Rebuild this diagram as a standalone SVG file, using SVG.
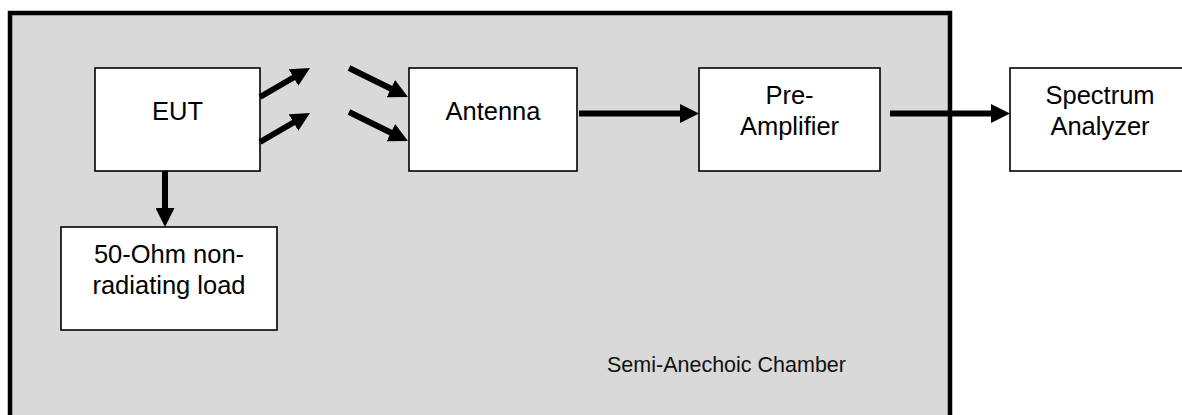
<svg xmlns="http://www.w3.org/2000/svg" width="1182" height="415" viewBox="0 0 1182 415">
  <defs>
    <marker id="ah" markerUnits="userSpaceOnUse" markerWidth="19" markerHeight="19" viewBox="0 0 19 19" refX="7" refY="9.5" orient="auto">
      <path d="M0,0 L19,9.5 L0,19 Z" fill="#000"/>
    </marker>
    <style>
      .box { fill: #fff; stroke: #000; stroke-width: 1.6; }
      .lbl { font-family: "Liberation Sans", Arial, sans-serif; font-size: 25.5px; fill: #000; text-anchor: middle; }
      .small { font-family: "Liberation Sans", Arial, sans-serif; font-size: 21.5px; fill: #111; }
      .conn { stroke: #000; stroke-width: 6; fill: none; marker-end: url(#ah); }
    </style>
  </defs>
  <rect width="1182" height="415" fill="#fff"/>
  <g id="chamber">
    <path d="M10,425 L10,13 L950,13 L950,425" fill="#d9d9d9" stroke="#000" stroke-width="4.5"/>
    <text class="small" x="607" y="372">Semi-Anechoic Chamber</text>
  </g>
  <g id="eut">
    <rect class="box" x="95" y="68" width="165" height="103"/>
    <text class="lbl" x="177.5" y="120">EUT</text>
  </g>
  <g id="antenna">
    <rect class="box" x="409" y="68" width="168" height="103"/>
    <text class="lbl" x="493" y="120">Antenna</text>
  </g>
  <g id="preamp">
    <rect class="box" x="699" y="68" width="181" height="103"/>
    <text class="lbl" x="789.5" y="104">Pre-</text>
    <text class="lbl" x="789.5" y="135">Amplifier</text>
  </g>
  <g id="spectrum">
    <rect class="box" x="1010" y="68" width="180" height="103"/>
    <text class="lbl" x="1100" y="104">Spectrum</text>
    <text class="lbl" x="1100" y="135">Analyzer</text>
  </g>
  <g id="load">
    <rect class="box" x="61" y="227" width="216" height="103"/>
    <text class="lbl" x="169" y="263">50-Ohm non-</text>
    <text class="lbl" x="169" y="293.5">radiating load</text>
  </g>
  <g id="connectors">
    <line class="conn" x1="165" y1="171" x2="165" y2="215"/>
    <line class="conn" x1="260" y1="97" x2="299.6" y2="74"/>
    <line class="conn" x1="260" y1="142" x2="299.6" y2="119"/>
    <line class="conn" x1="349" y1="68" x2="397.2" y2="91.7"/>
    <line class="conn" x1="349" y1="112" x2="397.2" y2="135.7"/>
    <line class="conn" x1="579" y1="113.5" x2="687" y2="113.5"/>
    <line class="conn" x1="890" y1="113.5" x2="998" y2="113.5"/>
  </g>
</svg>
